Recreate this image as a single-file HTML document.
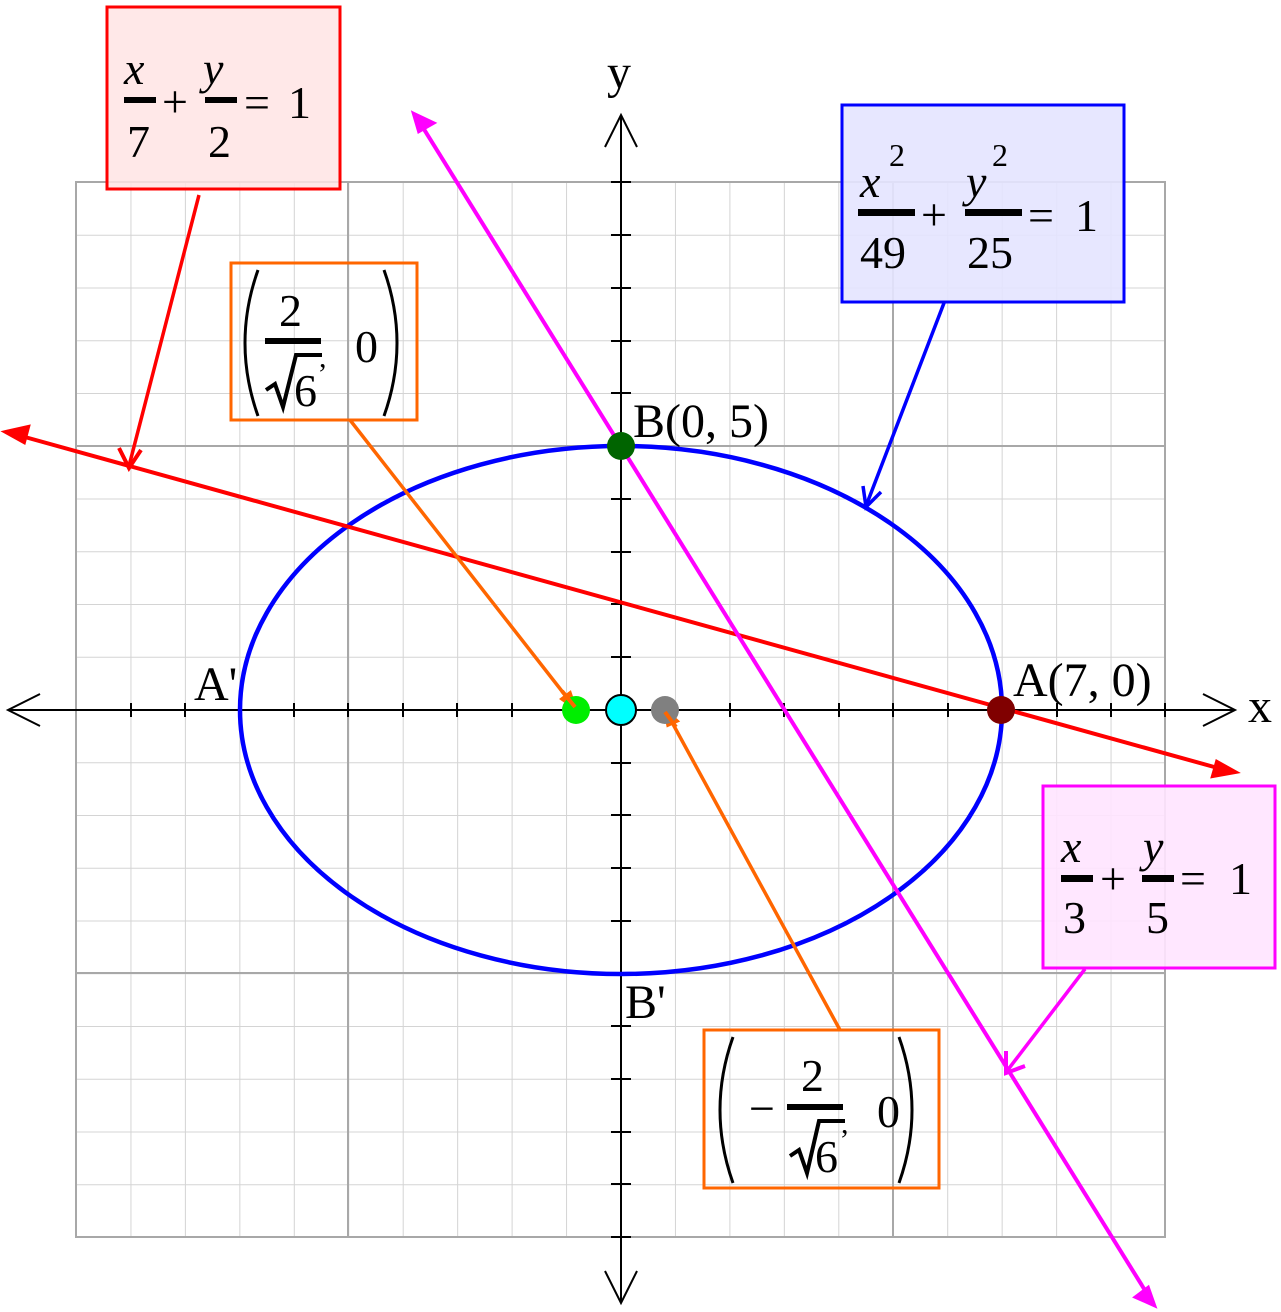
<!DOCTYPE html>
<html><head><meta charset="utf-8"><style>
html,body{margin:0;padding:0;background:#fff;}
svg{display:block;}
text{font-family:"Liberation Serif",serif;fill:#000;}
.it{font-style:italic;}
</style></head><body>
<svg width="1281" height="1312" viewBox="0 0 1281 1312" xmlns="http://www.w3.org/2000/svg">
<defs>
<pattern id="g" x="76" y="182" width="54.45" height="52.75" patternUnits="userSpaceOnUse">
<path d="M0 0V52.75M0 0H54.45" stroke="#d4d4d4" stroke-width="2" fill="none"/>
</pattern>
</defs>
<rect x="76" y="182" width="1089" height="1055" fill="url(#g)"/>
<g stroke="#a8a8a8" stroke-width="2" fill="none">
<rect x="76" y="182" width="1089" height="1055"/>
<path d="M348 182V1237M893 182V1237M76 446H1165M76 973H1165"/>
</g>
<g stroke="#000" stroke-width="2" fill="none">
<path d="M8 710H1235M621 115V1303"/>
<path d="M40 694L8 710L40 726M1203 694L1235 710L1203 726"/>
<path d="M605 147L621 115L637 147M605 1271L621 1303L637 1271"/>
<path d="M131 703v14M185 703v14M240 703v14M294 703v14M348 703v14M403 703v14M457 703v14M512 703v14M566 703v14M675 703v14M730 703v14M784 703v14M839 703v14M893 703v14M948 703v14M1002 703v14M1057 703v14M1111 703v14M1165 703v14"/>
<path d="M611 182h20M611 235h20M611 288h20M611 341h20M611 393h20M611 446h20M611 499h20M611 552h20M611 604h20M611 657h20M611 763h20M611 815h20M611 868h20M611 921h20M611 973h20M611 1026h20M611 1079h20M611 1132h20M611 1184h20M611 1237h20"/>
</g>
<ellipse cx="621" cy="710" rx="381" ry="264" fill="none" stroke="#0000ff" stroke-width="4.5"/>
<g stroke="#ff0000" stroke-width="4" fill="#ff0000">
<path d="M14 434L1225 770" fill="none"/>
<path d="M6 432L28 427L24 442Z"/>
<path d="M1235 772L1213 776L1217 762Z"/>
<path d="M199 195L129 466" stroke-width="3.5" fill="none"/>
<path d="M119 448L129 468L141 450" fill="none"/>
</g>
<g stroke="#ff00ff" stroke-width="4" fill="#ff00ff">
<path d="M417 118L1151 1300" fill="none"/>
<path d="M414 114L433 123L419 131Z"/>
<path d="M1154 1305L1136 1297L1148 1288Z"/>
<path d="M1085 969L1007 1071" stroke-width="3.5" fill="none"/>
<path d="M1006 1051L1006 1073L1025 1066" fill="none"/>
</g>
<g stroke="#0000ff" stroke-width="3.5" fill="none">
<path d="M944 303L866 506"/>
<path d="M863 486L866 507L881 492"/>
</g>
<g stroke="#ff6600" stroke-width="3.5" fill="#ff6600">
<path d="M350 420L572 704" fill="none"/>
<path d="M575 708L562 699L570 693Z"/>
<path d="M840 1030L668 715" fill="none"/>
<path d="M665 710L677 721L668 725Z"/>
</g>
<circle cx="576" cy="710" r="14" fill="#00ee00"/>
<path d="M562 691L575 707" stroke="#ff6600" stroke-width="4"/>
<circle cx="621" cy="710" r="15" fill="#00ffff" stroke="#000" stroke-width="2"/>
<circle cx="665" cy="710" r="14" fill="#808080"/>
<path d="M665 712L676 727" stroke="#ff6600" stroke-width="4"/>
<circle cx="621" cy="446" r="14" fill="#006400"/>
<circle cx="1001" cy="710" r="14" fill="#800000"/>
<text x="607" y="88" font-size="48">y</text>
<text x="1248" y="722" font-size="48">x</text>
<text x="633" y="437" font-size="48">B(0, 5)</text>
<text x="1013" y="696" font-size="48">A(7, 0)</text>
<text x="194" y="700" font-size="48">A'</text>
<text x="625" y="1018" font-size="48">B'</text>
<!-- red box -->
<rect x="107" y="7" width="233" height="182" fill="#ffe4e4" fill-opacity="0.85" stroke="#ff0000" stroke-width="3"/>
<text x="124" y="84" font-size="46" class="it">x</text>
<rect x="124" y="97" width="32" height="6" fill="#000"/>
<text x="127" y="157" font-size="46">7</text>
<text x="162" y="117" font-size="46">+</text>
<text x="203" y="84" font-size="46" class="it">y</text>
<rect x="205" y="97" width="32" height="6" fill="#000"/>
<text x="208" y="157" font-size="46">2</text>
<text x="244" y="118" font-size="46">=</text>
<text x="288" y="118" font-size="46">1</text>
<!-- blue box -->
<rect x="842" y="105" width="282" height="197" fill="#e4e4ff" fill-opacity="0.9" stroke="#0000ff" stroke-width="3"/>
<text x="860" y="197" font-size="46" class="it">x</text>
<text x="889" y="166" font-size="32">2</text>
<rect x="858" y="209" width="57" height="7" fill="#000"/>
<text x="860" y="268" font-size="46">49</text>
<text x="921" y="230" font-size="46">+</text>
<text x="966" y="197" font-size="46" class="it">y</text>
<text x="992" y="166" font-size="32">2</text>
<rect x="965" y="209" width="57" height="7" fill="#000"/>
<text x="967" y="268" font-size="46">25</text>
<text x="1028" y="231" font-size="46">=</text>
<text x="1075" y="231" font-size="46">1</text>
<!-- magenta box -->
<rect x="1043" y="786" width="232" height="182" fill="#ffe4ff" fill-opacity="0.9" stroke="#ff00ff" stroke-width="3"/>
<text x="1061" y="862" font-size="46" class="it">x</text>
<rect x="1061" y="875" width="32" height="7" fill="#000"/>
<text x="1063" y="933" font-size="46">3</text>
<text x="1100" y="894" font-size="46">+</text>
<text x="1143" y="862" font-size="46" class="it">y</text>
<rect x="1142" y="875" width="32" height="7" fill="#000"/>
<text x="1146" y="933" font-size="46">5</text>
<text x="1180" y="894" font-size="46">=</text>
<text x="1229" y="894" font-size="46">1</text>
<!-- orange box 1 -->
<rect x="231" y="263" width="186" height="157" fill="none" stroke="#ff6600" stroke-width="3"/>
<path d="M258 270Q232 343 258 416" stroke="#000" stroke-width="3" fill="none"/>
<path d="M384 270Q410 343 384 416" stroke="#000" stroke-width="3" fill="none"/>
<text x="279" y="326" font-size="46">2</text>
<rect x="265" y="338" width="56" height="6" fill="#000"/>
<path d="M266 390L275 384L283 407L296 355H322" stroke="#000" stroke-width="4" fill="none"/>
<text x="294" y="406" font-size="46">6</text>
<text x="319" y="367" font-size="30">,</text>
<text x="355" y="362" font-size="46">0</text>
<!-- orange box 2 -->
<rect x="704" y="1030" width="235" height="158" fill="none" stroke="#ff6600" stroke-width="3"/>
<path d="M733 1037Q707 1110 733 1183" stroke="#000" stroke-width="3" fill="none"/>
<path d="M899 1037Q925 1110 899 1183" stroke="#000" stroke-width="3" fill="none"/>
<text x="749" y="1124" font-size="46">−</text>
<text x="801" y="1091" font-size="46">2</text>
<rect x="787" y="1104" width="56" height="6" fill="#000"/>
<path d="M790 1156L799 1150L807 1173L819 1121H845" stroke="#000" stroke-width="4" fill="none"/>
<text x="815" y="1172" font-size="46">6</text>
<text x="841" y="1133" font-size="30">,</text>
<text x="877" y="1127" font-size="46">0</text>
</svg>
</body></html>
